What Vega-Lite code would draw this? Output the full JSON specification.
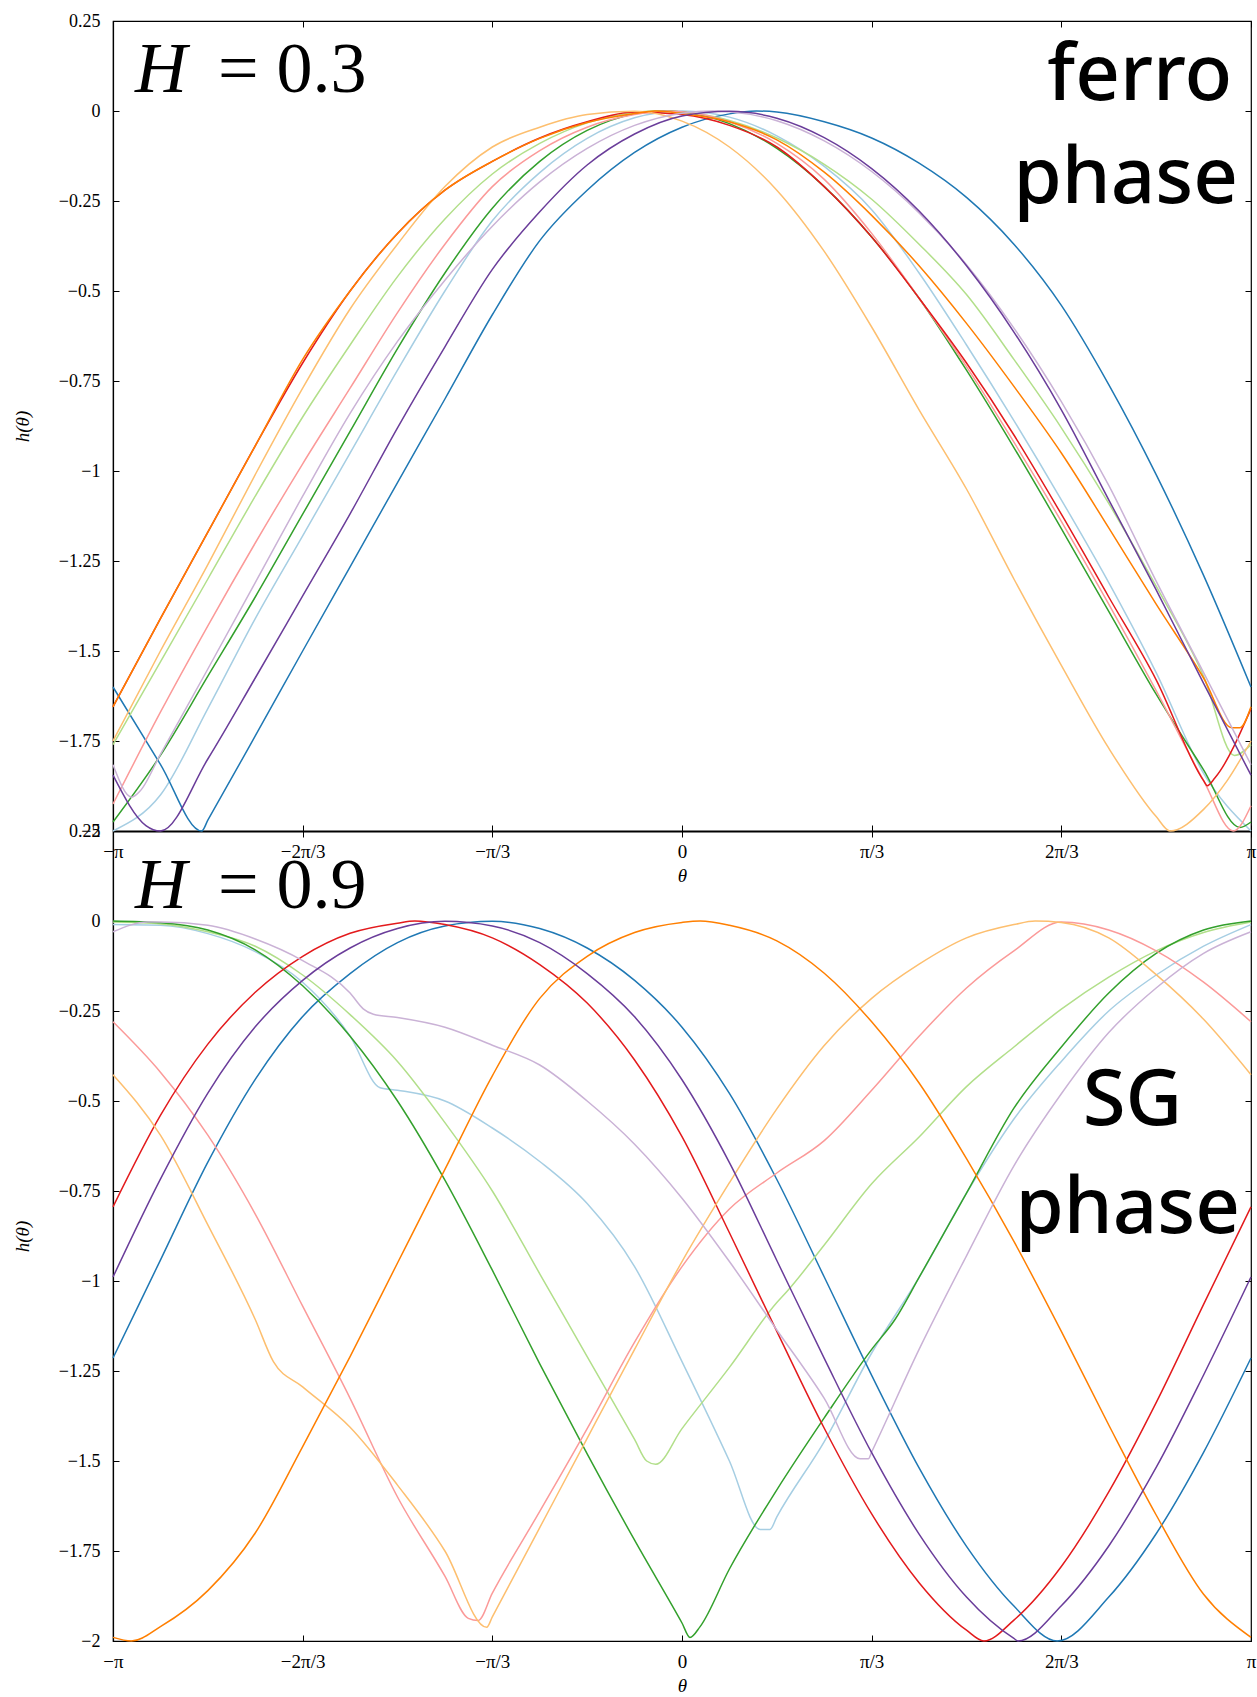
{
  "$schema": "https://vega.github.io/schema/vega-lite/v6.json",
  "width": 1138,
  "height": 1620,
  "autosize": {"type": "none"},
  "padding": {"left": 113, "top": 21, "right": 6, "bottom": 56},
  "background": "white",
  "config": {
    "view": {"stroke": "black", "strokeWidth": 1.2},
    "axis": {
      "labelFont": "Liberation Serif",
      "labelFontSize": 18,
      "labelColor": "black",
      "titleFont": "Liberation Serif",
      "titleFontSize": 19,
      "titleFontStyle": "italic",
      "titleFontWeight": "normal",
      "titleColor": "black",
      "domainColor": "black",
      "domainWidth": 1.2,
      "tickColor": "black",
      "tickSize": -6,
      "grid": false,
      "labelFlush": false,
      "labelOverlap": false
    },
    "line": {"strokeWidth": 1.5, "interpolate": "monotone"}
  },
  "datasets": {
    "notes": [
      {"k": "top-h", "w": "H", "t": -3.02, "h": 0.053},
      {"k": "top-eq", "w": "= 0.3", "t": -2.562, "h": 0.053},
      {"k": "top-word", "w": "ferro", "t": 3.037, "h": 0.031},
      {"k": "top-word", "w": "phase", "t": 3.07, "h": -0.256},
      {"k": "bot-h", "w": "H", "t": -3.02, "h": 0.036},
      {"k": "bot-eq", "w": "= 0.9", "t": -2.562, "h": 0.036},
      {"k": "bot-sg", "w": "SG", "t": 2.487, "h": -0.567},
      {"k": "bot-word", "w": "phase", "t": 3.081, "h": -0.867}
    ],
    "curves": [
      {"p":"T","s":"lightblue","t":-3.1416,"h":-2.0},
      {"p":"T","s":"lightblue","t":-2.8798,"h":-1.90},
      {"p":"T","s":"lightblue","t":-2.618,"h":-1.66},
      {"p":"T","s":"lightblue","t":-2.3562,"h":-1.41},
      {"p":"T","s":"lightblue","t":-2.0944,"h":-1.18},
      {"p":"T","s":"lightblue","t":-1.8326,"h":-0.95},
      {"p":"T","s":"lightblue","t":-1.5708,"h":-0.72},
      {"p":"T","s":"lightblue","t":-1.309,"h":-0.50},
      {"p":"T","s":"lightblue","t":-1.0472,"h":-0.305},
      {"p":"T","s":"lightblue","t":-0.7854,"h":-0.171},
      {"p":"T","s":"lightblue","t":-0.5236,"h":-0.076},
      {"p":"T","s":"lightblue","t":-0.2618,"h":-0.019},
      {"p":"T","s":"lightblue","t":0,"h":0},
      {"p":"T","s":"lightblue","t":0.2618,"h":-0.017},
      {"p":"T","s":"lightblue","t":0.5236,"h":-0.069},
      {"p":"T","s":"lightblue","t":0.7854,"h":-0.154},
      {"p":"T","s":"lightblue","t":1.0472,"h":-0.274},
      {"p":"T","s":"lightblue","t":1.309,"h":-0.45},
      {"p":"T","s":"lightblue","t":1.5708,"h":-0.65},
      {"p":"T","s":"lightblue","t":1.8326,"h":-0.86},
      {"p":"T","s":"lightblue","t":2.0944,"h":-1.08},
      {"p":"T","s":"lightblue","t":2.3562,"h":-1.31},
      {"p":"T","s":"lightblue","t":2.618,"h":-1.56},
      {"p":"T","s":"lightblue","t":2.8798,"h":-1.84},
      {"p":"T","s":"lightblue","t":3.1416,"h":-2.0},

      {"p":"T","s":"blue","t":-3.1416,"h":-1.60},
      {"p":"T","s":"blue","t":-2.8798,"h":-1.815},
      {"p":"T","s":"blue","t":-2.652,"h":-2.0},
      {"p":"T","s":"blue","t":-2.618,"h":-1.97},
      {"p":"T","s":"blue","t":-2.3562,"h":-1.736},
      {"p":"T","s":"blue","t":-2.0944,"h":-1.50},
      {"p":"T","s":"blue","t":-1.8326,"h":-1.266},
      {"p":"T","s":"blue","t":-1.5708,"h":-1.032},
      {"p":"T","s":"blue","t":-1.309,"h":-0.80},
      {"p":"T","s":"blue","t":-1.0472,"h":-0.566},
      {"p":"T","s":"blue","t":-0.7854,"h":-0.36},
      {"p":"T","s":"blue","t":-0.5236,"h":-0.22},
      {"p":"T","s":"blue","t":-0.2618,"h":-0.115},
      {"p":"T","s":"blue","t":0,"h":-0.045},
      {"p":"T","s":"blue","t":0.2618,"h":-0.008},
      {"p":"T","s":"blue","t":0.41,"h":0},
      {"p":"T","s":"blue","t":0.5236,"h":-0.003},
      {"p":"T","s":"blue","t":0.7854,"h":-0.03},
      {"p":"T","s":"blue","t":1.0472,"h":-0.075},
      {"p":"T","s":"blue","t":1.309,"h":-0.145},
      {"p":"T","s":"blue","t":1.5708,"h":-0.24},
      {"p":"T","s":"blue","t":1.8326,"h":-0.37},
      {"p":"T","s":"blue","t":2.0944,"h":-0.54},
      {"p":"T","s":"blue","t":2.3562,"h":-0.76},
      {"p":"T","s":"blue","t":2.618,"h":-1.01},
      {"p":"T","s":"blue","t":2.8798,"h":-1.29},
      {"p":"T","s":"blue","t":3.1416,"h":-1.60},

      {"p":"T","s":"lightgreen","t":-3.1416,"h":-1.76},
      {"p":"T","s":"lightgreen","t":-2.8798,"h":-1.53},
      {"p":"T","s":"lightgreen","t":-2.618,"h":-1.30},
      {"p":"T","s":"lightgreen","t":-2.3562,"h":-1.07},
      {"p":"T","s":"lightgreen","t":-2.0944,"h":-0.85},
      {"p":"T","s":"lightgreen","t":-1.8326,"h":-0.65},
      {"p":"T","s":"lightgreen","t":-1.5708,"h":-0.46},
      {"p":"T","s":"lightgreen","t":-1.309,"h":-0.30},
      {"p":"T","s":"lightgreen","t":-1.0472,"h":-0.175},
      {"p":"T","s":"lightgreen","t":-0.7854,"h":-0.09},
      {"p":"T","s":"lightgreen","t":-0.5236,"h":-0.033},
      {"p":"T","s":"lightgreen","t":-0.2618,"h":-0.004},
      {"p":"T","s":"lightgreen","t":-0.12,"h":0},
      {"p":"T","s":"lightgreen","t":0,"h":-0.003},
      {"p":"T","s":"lightgreen","t":0.2618,"h":-0.026},
      {"p":"T","s":"lightgreen","t":0.5236,"h":-0.075},
      {"p":"T","s":"lightgreen","t":0.7854,"h":-0.148},
      {"p":"T","s":"lightgreen","t":1.0472,"h":-0.245},
      {"p":"T","s":"lightgreen","t":1.309,"h":-0.37},
      {"p":"T","s":"lightgreen","t":1.5708,"h":-0.51},
      {"p":"T","s":"lightgreen","t":1.8326,"h":-0.69},
      {"p":"T","s":"lightgreen","t":2.0944,"h":-0.88},
      {"p":"T","s":"lightgreen","t":2.3562,"h":-1.09},
      {"p":"T","s":"lightgreen","t":2.618,"h":-1.32},
      {"p":"T","s":"lightgreen","t":2.8798,"h":-1.57},
      {"p":"T","s":"lightgreen","t":3.05,"h":-1.79},
      {"p":"T","s":"lightgreen","t":3.1416,"h":-1.76},

      {"p":"T","s":"green","t":-3.1416,"h":-1.975},
      {"p":"T","s":"green","t":-2.8798,"h":-1.79},
      {"p":"T","s":"green","t":-2.618,"h":-1.57},
      {"p":"T","s":"green","t":-2.3562,"h":-1.35},
      {"p":"T","s":"green","t":-2.0944,"h":-1.12},
      {"p":"T","s":"green","t":-1.8326,"h":-0.89},
      {"p":"T","s":"green","t":-1.5708,"h":-0.66},
      {"p":"T","s":"green","t":-1.309,"h":-0.45},
      {"p":"T","s":"green","t":-1.0472,"h":-0.27},
      {"p":"T","s":"green","t":-0.7854,"h":-0.14},
      {"p":"T","s":"green","t":-0.5236,"h":-0.054},
      {"p":"T","s":"green","t":-0.2618,"h":-0.008},
      {"p":"T","s":"green","t":-0.1,"h":0},
      {"p":"T","s":"green","t":0,"h":-0.003},
      {"p":"T","s":"green","t":0.2618,"h":-0.035},
      {"p":"T","s":"green","t":0.5236,"h":-0.104},
      {"p":"T","s":"green","t":0.7854,"h":-0.21},
      {"p":"T","s":"green","t":1.0472,"h":-0.35},
      {"p":"T","s":"green","t":1.309,"h":-0.52},
      {"p":"T","s":"green","t":1.5708,"h":-0.72},
      {"p":"T","s":"green","t":1.8326,"h":-0.935},
      {"p":"T","s":"green","t":2.0944,"h":-1.16},
      {"p":"T","s":"green","t":2.3562,"h":-1.39},
      {"p":"T","s":"green","t":2.618,"h":-1.62},
      {"p":"T","s":"green","t":2.8798,"h":-1.83},
      {"p":"T","s":"green","t":3.08,"h":-1.99},
      {"p":"T","s":"green","t":3.1416,"h":-1.975},

      {"p":"T","s":"pink","t":-3.1416,"h":-1.925},
      {"p":"T","s":"pink","t":-2.8798,"h":-1.67},
      {"p":"T","s":"pink","t":-2.618,"h":-1.43},
      {"p":"T","s":"pink","t":-2.3562,"h":-1.20},
      {"p":"T","s":"pink","t":-2.0944,"h":-0.98},
      {"p":"T","s":"pink","t":-1.8326,"h":-0.77},
      {"p":"T","s":"pink","t":-1.5708,"h":-0.56},
      {"p":"T","s":"pink","t":-1.309,"h":-0.37},
      {"p":"T","s":"pink","t":-1.0472,"h":-0.21},
      {"p":"T","s":"pink","t":-0.7854,"h":-0.11},
      {"p":"T","s":"pink","t":-0.5236,"h":-0.045},
      {"p":"T","s":"pink","t":-0.2618,"h":-0.01},
      {"p":"T","s":"pink","t":-0.085,"h":0},
      {"p":"T","s":"pink","t":0,"h":-0.002},
      {"p":"T","s":"pink","t":0.2618,"h":-0.03},
      {"p":"T","s":"pink","t":0.5236,"h":-0.09},
      {"p":"T","s":"pink","t":0.7854,"h":-0.19},
      {"p":"T","s":"pink","t":1.0472,"h":-0.34},
      {"p":"T","s":"pink","t":1.309,"h":-0.52},
      {"p":"T","s":"pink","t":1.5708,"h":-0.71},
      {"p":"T","s":"pink","t":1.8326,"h":-0.92},
      {"p":"T","s":"pink","t":2.0944,"h":-1.14},
      {"p":"T","s":"pink","t":2.3562,"h":-1.37},
      {"p":"T","s":"pink","t":2.618,"h":-1.61},
      {"p":"T","s":"pink","t":2.8798,"h":-1.86},
      {"p":"T","s":"pink","t":3.044,"h":-2.0},
      {"p":"T","s":"pink","t":3.1416,"h":-1.93},

      {"p":"T","s":"red","t":-3.1416,"h":-1.655},
      {"p":"T","s":"red","t":-2.8798,"h":-1.41},
      {"p":"T","s":"red","t":-2.618,"h":-1.17},
      {"p":"T","s":"red","t":-2.3562,"h":-0.93},
      {"p":"T","s":"red","t":-2.0944,"h":-0.70},
      {"p":"T","s":"red","t":-1.8326,"h":-0.50},
      {"p":"T","s":"red","t":-1.5708,"h":-0.34},
      {"p":"T","s":"red","t":-1.309,"h":-0.22},
      {"p":"T","s":"red","t":-1.0472,"h":-0.14},
      {"p":"T","s":"red","t":-0.7854,"h":-0.075},
      {"p":"T","s":"red","t":-0.5236,"h":-0.03},
      {"p":"T","s":"red","t":-0.2618,"h":-0.003},
      {"p":"T","s":"red","t":0,"h":-0.01},
      {"p":"T","s":"red","t":0.2618,"h":-0.04},
      {"p":"T","s":"red","t":0.5236,"h":-0.10},
      {"p":"T","s":"red","t":0.7854,"h":-0.21},
      {"p":"T","s":"red","t":1.0472,"h":-0.35},
      {"p":"T","s":"red","t":1.309,"h":-0.52},
      {"p":"T","s":"red","t":1.5708,"h":-0.70},
      {"p":"T","s":"red","t":1.8326,"h":-0.90},
      {"p":"T","s":"red","t":2.0944,"h":-1.12},
      {"p":"T","s":"red","t":2.3562,"h":-1.35},
      {"p":"T","s":"red","t":2.618,"h":-1.58},
      {"p":"T","s":"red","t":2.8798,"h":-1.86},
      {"p":"T","s":"red","t":2.9,"h":-1.874},
      {"p":"T","s":"red","t":2.943,"h":-1.852},
      {"p":"T","s":"red","t":3.1416,"h":-1.66},

      {"p":"T","s":"lightorange","t":-3.1416,"h":-1.75},
      {"p":"T","s":"lightorange","t":-2.8798,"h":-1.50},
      {"p":"T","s":"lightorange","t":-2.618,"h":-1.26},
      {"p":"T","s":"lightorange","t":-2.3562,"h":-1.01},
      {"p":"T","s":"lightorange","t":-2.0944,"h":-0.77},
      {"p":"T","s":"lightorange","t":-1.8326,"h":-0.55},
      {"p":"T","s":"lightorange","t":-1.5708,"h":-0.37},
      {"p":"T","s":"lightorange","t":-1.309,"h":-0.21},
      {"p":"T","s":"lightorange","t":-1.0472,"h":-0.10},
      {"p":"T","s":"lightorange","t":-0.7854,"h":-0.045},
      {"p":"T","s":"lightorange","t":-0.5236,"h":-0.01},
      {"p":"T","s":"lightorange","t":-0.2618,"h":-0.001},
      {"p":"T","s":"lightorange","t":0,"h":-0.028},
      {"p":"T","s":"lightorange","t":0.2618,"h":-0.10},
      {"p":"T","s":"lightorange","t":0.5236,"h":-0.22},
      {"p":"T","s":"lightorange","t":0.7854,"h":-0.39},
      {"p":"T","s":"lightorange","t":1.0472,"h":-0.60},
      {"p":"T","s":"lightorange","t":1.309,"h":-0.83},
      {"p":"T","s":"lightorange","t":1.5708,"h":-1.05},
      {"p":"T","s":"lightorange","t":1.8326,"h":-1.30},
      {"p":"T","s":"lightorange","t":2.0944,"h":-1.54},
      {"p":"T","s":"lightorange","t":2.3562,"h":-1.77},
      {"p":"T","s":"lightorange","t":2.618,"h":-1.96},
      {"p":"T","s":"lightorange","t":2.694,"h":-2.0},
      {"p":"T","s":"lightorange","t":2.8798,"h":-1.94},
      {"p":"T","s":"lightorange","t":3.01,"h":-1.86},
      {"p":"T","s":"lightorange","t":3.1416,"h":-1.75},

      {"p":"T","s":"orange","t":-3.1416,"h":-1.655},
      {"p":"T","s":"orange","t":-2.8798,"h":-1.41},
      {"p":"T","s":"orange","t":-2.618,"h":-1.17},
      {"p":"T","s":"orange","t":-2.3562,"h":-0.93},
      {"p":"T","s":"orange","t":-2.0944,"h":-0.69},
      {"p":"T","s":"orange","t":-1.8326,"h":-0.50},
      {"p":"T","s":"orange","t":-1.5708,"h":-0.34},
      {"p":"T","s":"orange","t":-1.309,"h":-0.22},
      {"p":"T","s":"orange","t":-1.0472,"h":-0.14},
      {"p":"T","s":"orange","t":-0.7854,"h":-0.076},
      {"p":"T","s":"orange","t":-0.5236,"h":-0.032},
      {"p":"T","s":"orange","t":-0.2618,"h":-0.007},
      {"p":"T","s":"orange","t":-0.15,"h":0},
      {"p":"T","s":"orange","t":0,"h":-0.007},
      {"p":"T","s":"orange","t":0.2618,"h":-0.03},
      {"p":"T","s":"orange","t":0.5236,"h":-0.08},
      {"p":"T","s":"orange","t":0.7854,"h":-0.17},
      {"p":"T","s":"orange","t":1.0472,"h":-0.29},
      {"p":"T","s":"orange","t":1.309,"h":-0.43},
      {"p":"T","s":"orange","t":1.5708,"h":-0.59},
      {"p":"T","s":"orange","t":1.8326,"h":-0.765},
      {"p":"T","s":"orange","t":2.0944,"h":-0.95},
      {"p":"T","s":"orange","t":2.3562,"h":-1.158},
      {"p":"T","s":"orange","t":2.618,"h":-1.37},
      {"p":"T","s":"orange","t":2.8798,"h":-1.575},
      {"p":"T","s":"orange","t":3.035,"h":-1.713},
      {"p":"T","s":"orange","t":3.081,"h":-1.713},
      {"p":"T","s":"orange","t":3.1416,"h":-1.655},

      {"p":"T","s":"lightpurple","t":-3.1416,"h":-1.816},
      {"p":"T","s":"lightpurple","t":-3.038,"h":-1.906},
      {"p":"T","s":"lightpurple","t":-2.992,"h":-1.889},
      {"p":"T","s":"lightpurple","t":-2.8798,"h":-1.787},
      {"p":"T","s":"lightpurple","t":-2.618,"h":-1.55},
      {"p":"T","s":"lightpurple","t":-2.3562,"h":-1.31},
      {"p":"T","s":"lightpurple","t":-2.0944,"h":-1.07},
      {"p":"T","s":"lightpurple","t":-1.8326,"h":-0.84},
      {"p":"T","s":"lightpurple","t":-1.5708,"h":-0.64},
      {"p":"T","s":"lightpurple","t":-1.309,"h":-0.47},
      {"p":"T","s":"lightpurple","t":-1.0472,"h":-0.32},
      {"p":"T","s":"lightpurple","t":-0.7854,"h":-0.197},
      {"p":"T","s":"lightpurple","t":-0.5236,"h":-0.104},
      {"p":"T","s":"lightpurple","t":-0.2618,"h":-0.04},
      {"p":"T","s":"lightpurple","t":0,"h":-0.006},
      {"p":"T","s":"lightpurple","t":0.17,"h":0},
      {"p":"T","s":"lightpurple","t":0.2618,"h":-0.002},
      {"p":"T","s":"lightpurple","t":0.5236,"h":-0.027},
      {"p":"T","s":"lightpurple","t":0.7854,"h":-0.083},
      {"p":"T","s":"lightpurple","t":1.0472,"h":-0.168},
      {"p":"T","s":"lightpurple","t":1.309,"h":-0.283},
      {"p":"T","s":"lightpurple","t":1.5708,"h":-0.427},
      {"p":"T","s":"lightpurple","t":1.8326,"h":-0.603},
      {"p":"T","s":"lightpurple","t":2.0944,"h":-0.807},
      {"p":"T","s":"lightpurple","t":2.3562,"h":-1.04},
      {"p":"T","s":"lightpurple","t":2.618,"h":-1.306},
      {"p":"T","s":"lightpurple","t":2.8798,"h":-1.56},
      {"p":"T","s":"lightpurple","t":3.1416,"h":-1.816},

      {"p":"T","s":"purple","t":-3.1416,"h":-1.845},
      {"p":"T","s":"purple","t":-2.96,"h":-1.985},
      {"p":"T","s":"purple","t":-2.8798,"h":-2.0},
      {"p":"T","s":"purple","t":-2.618,"h":-1.80},
      {"p":"T","s":"purple","t":-2.3562,"h":-1.575},
      {"p":"T","s":"purple","t":-2.0944,"h":-1.347},
      {"p":"T","s":"purple","t":-1.8326,"h":-1.119},
      {"p":"T","s":"purple","t":-1.5708,"h":-0.88},
      {"p":"T","s":"purple","t":-1.309,"h":-0.655},
      {"p":"T","s":"purple","t":-1.0472,"h":-0.44},
      {"p":"T","s":"purple","t":-0.7854,"h":-0.28},
      {"p":"T","s":"purple","t":-0.5236,"h":-0.15},
      {"p":"T","s":"purple","t":-0.2618,"h":-0.064},
      {"p":"T","s":"purple","t":0,"h":-0.014},
      {"p":"T","s":"purple","t":0.2618,"h":-0.001},
      {"p":"T","s":"purple","t":0.5236,"h":-0.02},
      {"p":"T","s":"purple","t":0.7854,"h":-0.074},
      {"p":"T","s":"purple","t":1.0472,"h":-0.16},
      {"p":"T","s":"purple","t":1.309,"h":-0.278},
      {"p":"T","s":"purple","t":1.5708,"h":-0.43},
      {"p":"T","s":"purple","t":1.8326,"h":-0.614},
      {"p":"T","s":"purple","t":2.0944,"h":-0.83},
      {"p":"T","s":"purple","t":2.3562,"h":-1.08},
      {"p":"T","s":"purple","t":2.618,"h":-1.33},
      {"p":"T","s":"purple","t":2.8798,"h":-1.59},
      {"p":"T","s":"purple","t":3.1416,"h":-1.845},

      {"p":"B","s":"lightblue","t":-3.1416,"h":-0.01},
      {"p":"B","s":"lightblue","t":-2.8798,"h":-0.012},
      {"p":"B","s":"lightblue","t":-2.618,"h":-0.035},
      {"p":"B","s":"lightblue","t":-2.3562,"h":-0.085},
      {"p":"B","s":"lightblue","t":-2.0944,"h":-0.17},
      {"p":"B","s":"lightblue","t":-1.8326,"h":-0.32},
      {"p":"B","s":"lightblue","t":-1.667,"h":-0.463},
      {"p":"B","s":"lightblue","t":-1.5708,"h":-0.47},
      {"p":"B","s":"lightblue","t":-1.309,"h":-0.50},
      {"p":"B","s":"lightblue","t":-1.0472,"h":-0.575},
      {"p":"B","s":"lightblue","t":-0.7854,"h":-0.668},
      {"p":"B","s":"lightblue","t":-0.5236,"h":-0.785},
      {"p":"B","s":"lightblue","t":-0.2618,"h":-0.96},
      {"p":"B","s":"lightblue","t":0,"h":-1.224},
      {"p":"B","s":"lightblue","t":0.2618,"h":-1.50},
      {"p":"B","s":"lightblue","t":0.431,"h":-1.69},
      {"p":"B","s":"lightblue","t":0.486,"h":-1.69},
      {"p":"B","s":"lightblue","t":0.5236,"h":-1.655},
      {"p":"B","s":"lightblue","t":0.7854,"h":-1.446},
      {"p":"B","s":"lightblue","t":1.0472,"h":-1.2},
      {"p":"B","s":"lightblue","t":1.309,"h":-0.99},
      {"p":"B","s":"lightblue","t":1.5708,"h":-0.756},
      {"p":"B","s":"lightblue","t":1.8326,"h":-0.55},
      {"p":"B","s":"lightblue","t":2.0944,"h":-0.39},
      {"p":"B","s":"lightblue","t":2.3562,"h":-0.25},
      {"p":"B","s":"lightblue","t":2.618,"h":-0.15},
      {"p":"B","s":"lightblue","t":2.8798,"h":-0.07},
      {"p":"B","s":"lightblue","t":3.1416,"h":-0.01},

      {"p":"B","s":"blue","t":-3.1416,"h":-1.214},
      {"p":"B","s":"blue","t":-2.8798,"h":-0.942},
      {"p":"B","s":"blue","t":-2.618,"h":-0.670},
      {"p":"B","s":"blue","t":-2.3562,"h":-0.440},
      {"p":"B","s":"blue","t":-2.0944,"h":-0.265},
      {"p":"B","s":"blue","t":-1.8326,"h":-0.146},
      {"p":"B","s":"blue","t":-1.5708,"h":-0.060},
      {"p":"B","s":"blue","t":-1.309,"h":-0.014},
      {"p":"B","s":"blue","t":-1.0472,"h":-0.001},
      {"p":"B","s":"blue","t":-0.7854,"h":-0.021},
      {"p":"B","s":"blue","t":-0.5236,"h":-0.075},
      {"p":"B","s":"blue","t":-0.2618,"h":-0.165},
      {"p":"B","s":"blue","t":0,"h":-0.295},
      {"p":"B","s":"blue","t":0.2618,"h":-0.479},
      {"p":"B","s":"blue","t":0.5236,"h":-0.718},
      {"p":"B","s":"blue","t":0.7854,"h":-0.989},
      {"p":"B","s":"blue","t":1.0472,"h":-1.262},
      {"p":"B","s":"blue","t":1.309,"h":-1.519},
      {"p":"B","s":"blue","t":1.5708,"h":-1.737},
      {"p":"B","s":"blue","t":1.8326,"h":-1.903},
      {"p":"B","s":"blue","t":2.0716,"h":-2.0},
      {"p":"B","s":"blue","t":2.3562,"h":-1.878},
      {"p":"B","s":"blue","t":2.618,"h":-1.702},
      {"p":"B","s":"blue","t":2.8798,"h":-1.476},
      {"p":"B","s":"blue","t":3.1416,"h":-1.214},

      {"p":"B","s":"lightgreen","t":-3.1416,"h":-0.003},
      {"p":"B","s":"lightgreen","t":-2.8798,"h":-0.008},
      {"p":"B","s":"lightgreen","t":-2.618,"h":-0.03},
      {"p":"B","s":"lightgreen","t":-2.3562,"h":-0.07},
      {"p":"B","s":"lightgreen","t":-2.0944,"h":-0.15},
      {"p":"B","s":"lightgreen","t":-1.8326,"h":-0.26},
      {"p":"B","s":"lightgreen","t":-1.5708,"h":-0.39},
      {"p":"B","s":"lightgreen","t":-1.309,"h":-0.56},
      {"p":"B","s":"lightgreen","t":-1.0472,"h":-0.75},
      {"p":"B","s":"lightgreen","t":-0.7854,"h":-0.98},
      {"p":"B","s":"lightgreen","t":-0.5236,"h":-1.21},
      {"p":"B","s":"lightgreen","t":-0.2618,"h":-1.44},
      {"p":"B","s":"lightgreen","t":-0.195,"h":-1.50},
      {"p":"B","s":"lightgreen","t":-0.145,"h":-1.509},
      {"p":"B","s":"lightgreen","t":0,"h":-1.41},
      {"p":"B","s":"lightgreen","t":0.2618,"h":-1.24},
      {"p":"B","s":"lightgreen","t":0.5236,"h":-1.06},
      {"p":"B","s":"lightgreen","t":0.578,"h":-1.03},
      {"p":"B","s":"lightgreen","t":0.7854,"h":-0.90},
      {"p":"B","s":"lightgreen","t":1.0472,"h":-0.73},
      {"p":"B","s":"lightgreen","t":1.309,"h":-0.60},
      {"p":"B","s":"lightgreen","t":1.5708,"h":-0.46},
      {"p":"B","s":"lightgreen","t":1.8326,"h":-0.35},
      {"p":"B","s":"lightgreen","t":2.0944,"h":-0.245},
      {"p":"B","s":"lightgreen","t":2.3562,"h":-0.156},
      {"p":"B","s":"lightgreen","t":2.618,"h":-0.083},
      {"p":"B","s":"lightgreen","t":2.8798,"h":-0.032},
      {"p":"B","s":"lightgreen","t":3.1416,"h":-0.003},

      {"p":"B","s":"green","t":-3.1416,"h":0},
      {"p":"B","s":"green","t":-2.8798,"h":-0.005},
      {"p":"B","s":"green","t":-2.618,"h":-0.025},
      {"p":"B","s":"green","t":-2.3562,"h":-0.08},
      {"p":"B","s":"green","t":-2.0944,"h":-0.18},
      {"p":"B","s":"green","t":-1.8326,"h":-0.32},
      {"p":"B","s":"green","t":-1.5708,"h":-0.50},
      {"p":"B","s":"green","t":-1.309,"h":-0.72},
      {"p":"B","s":"green","t":-1.0472,"h":-0.97},
      {"p":"B","s":"green","t":-0.7854,"h":-1.23},
      {"p":"B","s":"green","t":-0.5236,"h":-1.48},
      {"p":"B","s":"green","t":-0.2618,"h":-1.72},
      {"p":"B","s":"green","t":0,"h":-1.95},
      {"p":"B","s":"green","t":0.044,"h":-1.99},
      {"p":"B","s":"green","t":0.1,"h":-1.96},
      {"p":"B","s":"green","t":0.2618,"h":-1.80},
      {"p":"B","s":"green","t":0.5236,"h":-1.58},
      {"p":"B","s":"green","t":0.7854,"h":-1.38},
      {"p":"B","s":"green","t":1.0472,"h":-1.19},
      {"p":"B","s":"green","t":1.176,"h":-1.107},
      {"p":"B","s":"green","t":1.309,"h":-0.99},
      {"p":"B","s":"green","t":1.5708,"h":-0.756},
      {"p":"B","s":"green","t":1.8326,"h":-0.52},
      {"p":"B","s":"green","t":2.0944,"h":-0.35},
      {"p":"B","s":"green","t":2.3562,"h":-0.20},
      {"p":"B","s":"green","t":2.618,"h":-0.09},
      {"p":"B","s":"green","t":2.8798,"h":-0.025},
      {"p":"B","s":"green","t":3.1416,"h":0},

      {"p":"B","s":"pink","t":-3.1416,"h":-0.28},
      {"p":"B","s":"pink","t":-2.8798,"h":-0.42},
      {"p":"B","s":"pink","t":-2.618,"h":-0.595},
      {"p":"B","s":"pink","t":-2.3562,"h":-0.814},
      {"p":"B","s":"pink","t":-2.0944,"h":-1.07},
      {"p":"B","s":"pink","t":-1.8326,"h":-1.326},
      {"p":"B","s":"pink","t":-1.5708,"h":-1.60},
      {"p":"B","s":"pink","t":-1.309,"h":-1.82},
      {"p":"B","s":"pink","t":-1.18,"h":-1.937},
      {"p":"B","s":"pink","t":-1.125,"h":-1.943},
      {"p":"B","s":"pink","t":-1.0472,"h":-1.867},
      {"p":"B","s":"pink","t":-0.7854,"h":-1.64},
      {"p":"B","s":"pink","t":-0.5236,"h":-1.41},
      {"p":"B","s":"pink","t":-0.2618,"h":-1.17},
      {"p":"B","s":"pink","t":0,"h":-0.96},
      {"p":"B","s":"pink","t":0.2618,"h":-0.80},
      {"p":"B","s":"pink","t":0.5236,"h":-0.70},
      {"p":"B","s":"pink","t":0.7854,"h":-0.61},
      {"p":"B","s":"pink","t":1.0472,"h":-0.47},
      {"p":"B","s":"pink","t":1.309,"h":-0.32},
      {"p":"B","s":"pink","t":1.5708,"h":-0.186},
      {"p":"B","s":"pink","t":1.8326,"h":-0.083},
      {"p":"B","s":"pink","t":2.0944,"h":-0.003},
      {"p":"B","s":"pink","t":2.3562,"h":-0.025},
      {"p":"B","s":"pink","t":2.618,"h":-0.083},
      {"p":"B","s":"pink","t":2.8798,"h":-0.17},
      {"p":"B","s":"pink","t":3.1416,"h":-0.28},

      {"p":"B","s":"red","t":-3.1416,"h":-0.794},
      {"p":"B","s":"red","t":-2.8798,"h":-0.540},
      {"p":"B","s":"red","t":-2.618,"h":-0.342},
      {"p":"B","s":"red","t":-2.3562,"h":-0.198},
      {"p":"B","s":"red","t":-2.0944,"h":-0.098},
      {"p":"B","s":"red","t":-1.8326,"h":-0.034},
      {"p":"B","s":"red","t":-1.5708,"h":-0.006},
      {"p":"B","s":"red","t":-1.475,"h":0},
      {"p":"B","s":"red","t":-1.309,"h":-0.010},
      {"p":"B","s":"red","t":-1.0472,"h":-0.047},
      {"p":"B","s":"red","t":-0.7854,"h":-0.121},
      {"p":"B","s":"red","t":-0.5236,"h":-0.228},
      {"p":"B","s":"red","t":-0.2618,"h":-0.386},
      {"p":"B","s":"red","t":0,"h":-0.599},
      {"p":"B","s":"red","t":0.2618,"h":-0.866},
      {"p":"B","s":"red","t":0.5236,"h":-1.14},
      {"p":"B","s":"red","t":0.7854,"h":-1.409},
      {"p":"B","s":"red","t":1.0472,"h":-1.647},
      {"p":"B","s":"red","t":1.309,"h":-1.838},
      {"p":"B","s":"red","t":1.5708,"h":-1.970},
      {"p":"B","s":"red","t":1.667,"h":-2.0},
      {"p":"B","s":"red","t":1.8326,"h":-1.942},
      {"p":"B","s":"red","t":2.0944,"h":-1.793},
      {"p":"B","s":"red","t":2.3562,"h":-1.586},
      {"p":"B","s":"red","t":2.618,"h":-1.338},
      {"p":"B","s":"red","t":2.8798,"h":-1.065},
      {"p":"B","s":"red","t":3.1416,"h":-0.794},

      {"p":"B","s":"lightorange","t":-3.1416,"h":-0.427},
      {"p":"B","s":"lightorange","t":-2.8798,"h":-0.595},
      {"p":"B","s":"lightorange","t":-2.618,"h":-0.844},
      {"p":"B","s":"lightorange","t":-2.3562,"h":-1.107},
      {"p":"B","s":"lightorange","t":-2.256,"h":-1.224},
      {"p":"B","s":"lightorange","t":-2.0944,"h":-1.294},
      {"p":"B","s":"lightorange","t":-1.8326,"h":-1.406},
      {"p":"B","s":"lightorange","t":-1.5708,"h":-1.567},
      {"p":"B","s":"lightorange","t":-1.309,"h":-1.75},
      {"p":"B","s":"lightorange","t":-1.078,"h":-1.962},
      {"p":"B","s":"lightorange","t":-1.0472,"h":-1.933},
      {"p":"B","s":"lightorange","t":-0.7854,"h":-1.685},
      {"p":"B","s":"lightorange","t":-0.5236,"h":-1.437},
      {"p":"B","s":"lightorange","t":-0.2618,"h":-1.19},
      {"p":"B","s":"lightorange","t":0,"h":-0.946},
      {"p":"B","s":"lightorange","t":0.2618,"h":-0.727},
      {"p":"B","s":"lightorange","t":0.5236,"h":-0.522},
      {"p":"B","s":"lightorange","t":0.7854,"h":-0.346},
      {"p":"B","s":"lightorange","t":1.0472,"h":-0.215},
      {"p":"B","s":"lightorange","t":1.309,"h":-0.12},
      {"p":"B","s":"lightorange","t":1.5708,"h":-0.047},
      {"p":"B","s":"lightorange","t":1.8326,"h":-0.01},
      {"p":"B","s":"lightorange","t":1.95,"h":0},
      {"p":"B","s":"lightorange","t":2.0944,"h":-0.004},
      {"p":"B","s":"lightorange","t":2.3562,"h":-0.047},
      {"p":"B","s":"lightorange","t":2.618,"h":-0.149},
      {"p":"B","s":"lightorange","t":2.8798,"h":-0.273},
      {"p":"B","s":"lightorange","t":3.1416,"h":-0.427},

      {"p":"B","s":"orange","t":-3.1416,"h":-1.99},
      {"p":"B","s":"orange","t":-3.04,"h":-2.0},
      {"p":"B","s":"orange","t":-2.8798,"h":-1.96},
      {"p":"B","s":"orange","t":-2.618,"h":-1.86},
      {"p":"B","s":"orange","t":-2.3562,"h":-1.70},
      {"p":"B","s":"orange","t":-2.0944,"h":-1.46},
      {"p":"B","s":"orange","t":-1.8326,"h":-1.21},
      {"p":"B","s":"orange","t":-1.5708,"h":-0.95},
      {"p":"B","s":"orange","t":-1.309,"h":-0.69},
      {"p":"B","s":"orange","t":-1.0472,"h":-0.43},
      {"p":"B","s":"orange","t":-0.7854,"h":-0.215},
      {"p":"B","s":"orange","t":-0.5236,"h":-0.098},
      {"p":"B","s":"orange","t":-0.2618,"h":-0.032},
      {"p":"B","s":"orange","t":0,"h":-0.004},
      {"p":"B","s":"orange","t":0.1,"h":0},
      {"p":"B","s":"orange","t":0.2618,"h":-0.012},
      {"p":"B","s":"orange","t":0.5236,"h":-0.055},
      {"p":"B","s":"orange","t":0.7854,"h":-0.145},
      {"p":"B","s":"orange","t":1.0472,"h":-0.28},
      {"p":"B","s":"orange","t":1.309,"h":-0.45},
      {"p":"B","s":"orange","t":1.5708,"h":-0.66},
      {"p":"B","s":"orange","t":1.8326,"h":-0.89},
      {"p":"B","s":"orange","t":2.0944,"h":-1.14},
      {"p":"B","s":"orange","t":2.3562,"h":-1.40},
      {"p":"B","s":"orange","t":2.618,"h":-1.65},
      {"p":"B","s":"orange","t":2.8798,"h":-1.87},
      {"p":"B","s":"orange","t":3.1416,"h":-1.99},

      {"p":"B","s":"lightpurple","t":-3.1416,"h":-0.03},
      {"p":"B","s":"lightpurple","t":-2.95,"h":-0.003},
      {"p":"B","s":"lightpurple","t":-2.8798,"h":-0.003},
      {"p":"B","s":"lightpurple","t":-2.618,"h":-0.012},
      {"p":"B","s":"lightpurple","t":-2.3562,"h":-0.05},
      {"p":"B","s":"lightpurple","t":-2.0944,"h":-0.11},
      {"p":"B","s":"lightpurple","t":-1.8326,"h":-0.20},
      {"p":"B","s":"lightpurple","t":-1.76,"h":-0.244},
      {"p":"B","s":"lightpurple","t":-1.704,"h":-0.259},
      {"p":"B","s":"lightpurple","t":-1.5708,"h":-0.268},
      {"p":"B","s":"lightpurple","t":-1.309,"h":-0.295},
      {"p":"B","s":"lightpurple","t":-1.0472,"h":-0.345},
      {"p":"B","s":"lightpurple","t":-0.7854,"h":-0.40},
      {"p":"B","s":"lightpurple","t":-0.5236,"h":-0.50},
      {"p":"B","s":"lightpurple","t":-0.2618,"h":-0.62},
      {"p":"B","s":"lightpurple","t":0,"h":-0.77},
      {"p":"B","s":"lightpurple","t":0.2618,"h":-0.946},
      {"p":"B","s":"lightpurple","t":0.5236,"h":-1.136},
      {"p":"B","s":"lightpurple","t":0.7854,"h":-1.326},
      {"p":"B","s":"lightpurple","t":0.983,"h":-1.494},
      {"p":"B","s":"lightpurple","t":1.029,"h":-1.494},
      {"p":"B","s":"lightpurple","t":1.0472,"h":-1.475},
      {"p":"B","s":"lightpurple","t":1.309,"h":-1.19},
      {"p":"B","s":"lightpurple","t":1.5708,"h":-0.93},
      {"p":"B","s":"lightpurple","t":1.8326,"h":-0.68},
      {"p":"B","s":"lightpurple","t":2.0944,"h":-0.48},
      {"p":"B","s":"lightpurple","t":2.3562,"h":-0.31},
      {"p":"B","s":"lightpurple","t":2.618,"h":-0.186},
      {"p":"B","s":"lightpurple","t":2.8798,"h":-0.09},
      {"p":"B","s":"lightpurple","t":3.1416,"h":-0.03},

      {"p":"B","s":"purple","t":-3.1416,"h":-0.989},
      {"p":"B","s":"purple","t":-2.8798,"h":-0.717},
      {"p":"B","s":"purple","t":-2.618,"h":-0.478},
      {"p":"B","s":"purple","t":-2.3562,"h":-0.294},
      {"p":"B","s":"purple","t":-2.0944,"h":-0.165},
      {"p":"B","s":"purple","t":-1.8326,"h":-0.075},
      {"p":"B","s":"purple","t":-1.5708,"h":-0.021},
      {"p":"B","s":"purple","t":-1.309,"h":-0.001},
      {"p":"B","s":"purple","t":-1.0472,"h":-0.014},
      {"p":"B","s":"purple","t":-0.7854,"h":-0.060},
      {"p":"B","s":"purple","t":-0.5236,"h":-0.146},
      {"p":"B","s":"purple","t":-0.2618,"h":-0.266},
      {"p":"B","s":"purple","t":0,"h":-0.441},
      {"p":"B","s":"purple","t":0.2618,"h":-0.671},
      {"p":"B","s":"purple","t":0.5236,"h":-0.943},
      {"p":"B","s":"purple","t":0.7854,"h":-1.215},
      {"p":"B","s":"purple","t":1.0472,"h":-1.477},
      {"p":"B","s":"purple","t":1.309,"h":-1.703},
      {"p":"B","s":"purple","t":1.5708,"h":-1.878},
      {"p":"B","s":"purple","t":1.8326,"h":-1.993},
      {"p":"B","s":"purple","t":1.855,"h":-2.0},
      {"p":"B","s":"purple","t":2.0944,"h":-1.902},
      {"p":"B","s":"purple","t":2.3562,"h":-1.736},
      {"p":"B","s":"purple","t":2.618,"h":-1.518},
      {"p":"B","s":"purple","t":2.8798,"h":-1.261},
      {"p":"B","s":"purple","t":3.1416,"h":-0.989}
    ]
  },
  "resolve": {"scale": {"x": "independent", "y": "independent"}},
  "layer": [
    {
      "data": {"name": "curves"},
      "transform": [{"filter": "datum.p == 'T'"}],
      "mark": {"type": "line"},
      "encoding": {
        "x": {
          "field": "t", "type": "quantitative",
          "scale": {"domain": [-3.14159265, 3.14159265], "nice": false, "zero": false},
          "axis": {
            "orient": "bottom", "offset": -810, "domainWidth": 2,
            "values": [-3.14159265, -2.0943951, -1.04719755, 0, 1.04719755, 2.0943951, 3.14159265],
            "labelExpr": "['−π','−2π/3','−π/3','0','π/3','2π/3','π'][round(datum.value*3/PI)+3]",
            "labelFontSize": 19, "labelPadding": 17, "title": "θ", "titlePadding": 5
          }
        },
        "y": {
          "field": "h", "type": "quantitative",
          "scale": {"domain": [-2, 0.25], "range": [810, 0], "nice": false, "zero": false},
          "axis": {
            "orient": "left",
            "values": [0.25, 0, -0.25, -0.5, -0.75, -1, -1.25, -1.5, -1.75, -2],
            "format": ".2~f", "labelPadding": 19, "title": "h(θ)", "titlePadding": 26
          }
        },
        "color": {
          "field": "s", "type": "nominal", "legend": null,
          "scale": {
            "domain": ["lightblue", "blue", "lightgreen", "green", "pink", "red", "lightorange", "orange", "lightpurple", "purple"],
            "range": ["#a6cee3", "#1f78b4", "#b2df8a", "#33a02c", "#fb9a99", "#e31a1c", "#fdbf6f", "#ff7f00", "#cab2d6", "#6a3d9a"]
          }
        }
      }
    },
    {
      "data": {"name": "curves"},
      "transform": [{"filter": "datum.p == 'B'"}],
      "mark": {"type": "line"},
      "encoding": {
        "x": {
          "field": "t", "type": "quantitative",
          "scale": {"domain": [-3.14159265, 3.14159265], "nice": false, "zero": false},
          "axis": {
            "orient": "bottom",
            "values": [-3.14159265, -2.0943951, -1.04719755, 0, 1.04719755, 2.0943951, 3.14159265],
            "labelExpr": "['−π','−2π/3','−π/3','0','π/3','2π/3','π'][round(datum.value*3/PI)+3]",
            "labelFontSize": 19, "labelPadding": 17, "title": "θ", "titlePadding": 5
          }
        },
        "y": {
          "field": "h", "type": "quantitative",
          "scale": {"domain": [-2, 0.25], "range": [1620, 810], "nice": false, "zero": false},
          "axis": {
            "orient": "left",
            "values": [0.25, 0, -0.25, -0.5, -0.75, -1, -1.25, -1.5, -1.75, -2],
            "format": ".2~f", "labelPadding": 19, "title": "h(θ)", "titlePadding": 26
          }
        },
        "color": {
          "field": "s", "type": "nominal", "legend": null,
          "scale": {
            "domain": ["lightblue", "blue", "lightgreen", "green", "pink", "red", "lightorange", "orange", "lightpurple", "purple"],
            "range": ["#a6cee3", "#1f78b4", "#b2df8a", "#33a02c", "#fb9a99", "#e31a1c", "#fdbf6f", "#ff7f00", "#cab2d6", "#6a3d9a"]
          }
        }
      }
    },
    {
      "mark": {"type": "rule", "color": "black", "strokeWidth": 1, "strokeDash": [1, 2]},
      "encoding": {
        "x": {
          "datum": -3.14159265, "type": "quantitative",
          "scale": {"domain": [-3.14159265, 3.14159265], "nice": false, "zero": false},
          "axis": {
            "orient": "top", "labels": false, "domain": false, "title": null,
            "values": [-3.14159265, -2.0943951, -1.04719755, 0, 1.04719755, 2.0943951, 3.14159265]
          }
        },
        "x2": {"datum": 3.14159265},
        "y": {
          "datum": 0, "type": "quantitative",
          "scale": {"domain": [-2, 0.25], "range": [810, 0], "nice": false, "zero": false},
          "axis": {
            "orient": "right", "labels": false, "domain": false, "title": null,
            "values": [0.25, 0, -0.25, -0.5, -0.75, -1, -1.25, -1.5, -1.75, -2]
          }
        }
      }
    },
    {
      "mark": {"type": "rule", "color": "black", "strokeWidth": 1, "strokeDash": [1, 2]},
      "encoding": {
        "x": {
          "datum": -3.14159265, "type": "quantitative",
          "scale": {"domain": [-3.14159265, 3.14159265], "nice": false, "zero": false},
          "axis": {
            "orient": "top", "offset": -810, "labels": false, "domain": false, "title": null,
            "values": [-3.14159265, -2.0943951, -1.04719755, 0, 1.04719755, 2.0943951, 3.14159265]
          }
        },
        "x2": {"datum": 3.14159265},
        "y": {
          "datum": 0, "type": "quantitative",
          "scale": {"domain": [-2, 0.25], "range": [1620, 810], "nice": false, "zero": false},
          "axis": {
            "orient": "right", "labels": false, "domain": false, "title": null,
            "values": [0.25, 0, -0.25, -0.5, -0.75, -1, -1.25, -1.5, -1.75, -2]
          }
        }
      }
    },
    {
      "data": {"name": "notes"},
      "transform": [{"filter": "datum.k == 'top-h'"}],
      "mark": {"type": "text", "font": "Liberation Serif", "fontStyle": "italic", "fontSize": 72, "align": "left", "baseline": "alphabetic", "fill": "black"},
      "encoding": {
        "text": {"field": "w"},
        "x": {"field": "t", "type": "quantitative", "scale": {"domain": [-3.14159265, 3.14159265], "nice": false, "zero": false}, "axis": null},
        "y": {"field": "h", "type": "quantitative", "scale": {"domain": [-2, 0.25], "range": [810, 0], "nice": false, "zero": false}, "axis": null}
      }
    },
    {
      "data": {"name": "notes"},
      "transform": [{"filter": "datum.k == 'top-eq'"}],
      "mark": {"type": "text", "font": "Liberation Serif", "fontSize": 72, "align": "left", "baseline": "alphabetic", "fill": "black"},
      "encoding": {
        "text": {"field": "w"},
        "x": {"field": "t", "type": "quantitative", "scale": {"domain": [-3.14159265, 3.14159265], "nice": false, "zero": false}, "axis": null},
        "y": {"field": "h", "type": "quantitative", "scale": {"domain": [-2, 0.25], "range": [810, 0], "nice": false, "zero": false}, "axis": null}
      }
    },
    {
      "data": {"name": "notes"},
      "transform": [{"filter": "datum.k == 'top-word'"}],
      "mark": {"type": "text", "font": "Noto Sans", "fontSize": 78, "fontWeight": 500, "align": "right", "baseline": "alphabetic", "fill": "black"},
      "encoding": {
        "text": {"field": "w"},
        "x": {"field": "t", "type": "quantitative", "scale": {"domain": [-3.14159265, 3.14159265], "nice": false, "zero": false}, "axis": null},
        "y": {"field": "h", "type": "quantitative", "scale": {"domain": [-2, 0.25], "range": [810, 0], "nice": false, "zero": false}, "axis": null}
      }
    },
    {
      "data": {"name": "notes"},
      "transform": [{"filter": "datum.k == 'bot-h'"}],
      "mark": {"type": "text", "font": "Liberation Serif", "fontStyle": "italic", "fontSize": 72, "align": "left", "baseline": "alphabetic", "fill": "black"},
      "encoding": {
        "text": {"field": "w"},
        "x": {"field": "t", "type": "quantitative", "scale": {"domain": [-3.14159265, 3.14159265], "nice": false, "zero": false}, "axis": null},
        "y": {"field": "h", "type": "quantitative", "scale": {"domain": [-2, 0.25], "range": [1620, 810], "nice": false, "zero": false}, "axis": null}
      }
    },
    {
      "data": {"name": "notes"},
      "transform": [{"filter": "datum.k == 'bot-eq'"}],
      "mark": {"type": "text", "font": "Liberation Serif", "fontSize": 72, "align": "left", "baseline": "alphabetic", "fill": "black"},
      "encoding": {
        "text": {"field": "w"},
        "x": {"field": "t", "type": "quantitative", "scale": {"domain": [-3.14159265, 3.14159265], "nice": false, "zero": false}, "axis": null},
        "y": {"field": "h", "type": "quantitative", "scale": {"domain": [-2, 0.25], "range": [1620, 810], "nice": false, "zero": false}, "axis": null}
      }
    },
    {
      "data": {"name": "notes"},
      "transform": [{"filter": "datum.k == 'bot-sg'"}],
      "mark": {"type": "text", "font": "Noto Sans", "fontSize": 78, "fontWeight": 500, "align": "center", "baseline": "alphabetic", "fill": "black"},
      "encoding": {
        "text": {"field": "w"},
        "x": {"field": "t", "type": "quantitative", "scale": {"domain": [-3.14159265, 3.14159265], "nice": false, "zero": false}, "axis": null},
        "y": {"field": "h", "type": "quantitative", "scale": {"domain": [-2, 0.25], "range": [1620, 810], "nice": false, "zero": false}, "axis": null}
      }
    },
    {
      "data": {"name": "notes"},
      "transform": [{"filter": "datum.k == 'bot-word'"}],
      "mark": {"type": "text", "font": "Noto Sans", "fontSize": 78, "fontWeight": 500, "align": "right", "baseline": "alphabetic", "fill": "black"},
      "encoding": {
        "text": {"field": "w"},
        "x": {"field": "t", "type": "quantitative", "scale": {"domain": [-3.14159265, 3.14159265], "nice": false, "zero": false}, "axis": null},
        "y": {"field": "h", "type": "quantitative", "scale": {"domain": [-2, 0.25], "range": [1620, 810], "nice": false, "zero": false}, "axis": null}
      }
    }
  ]
}
